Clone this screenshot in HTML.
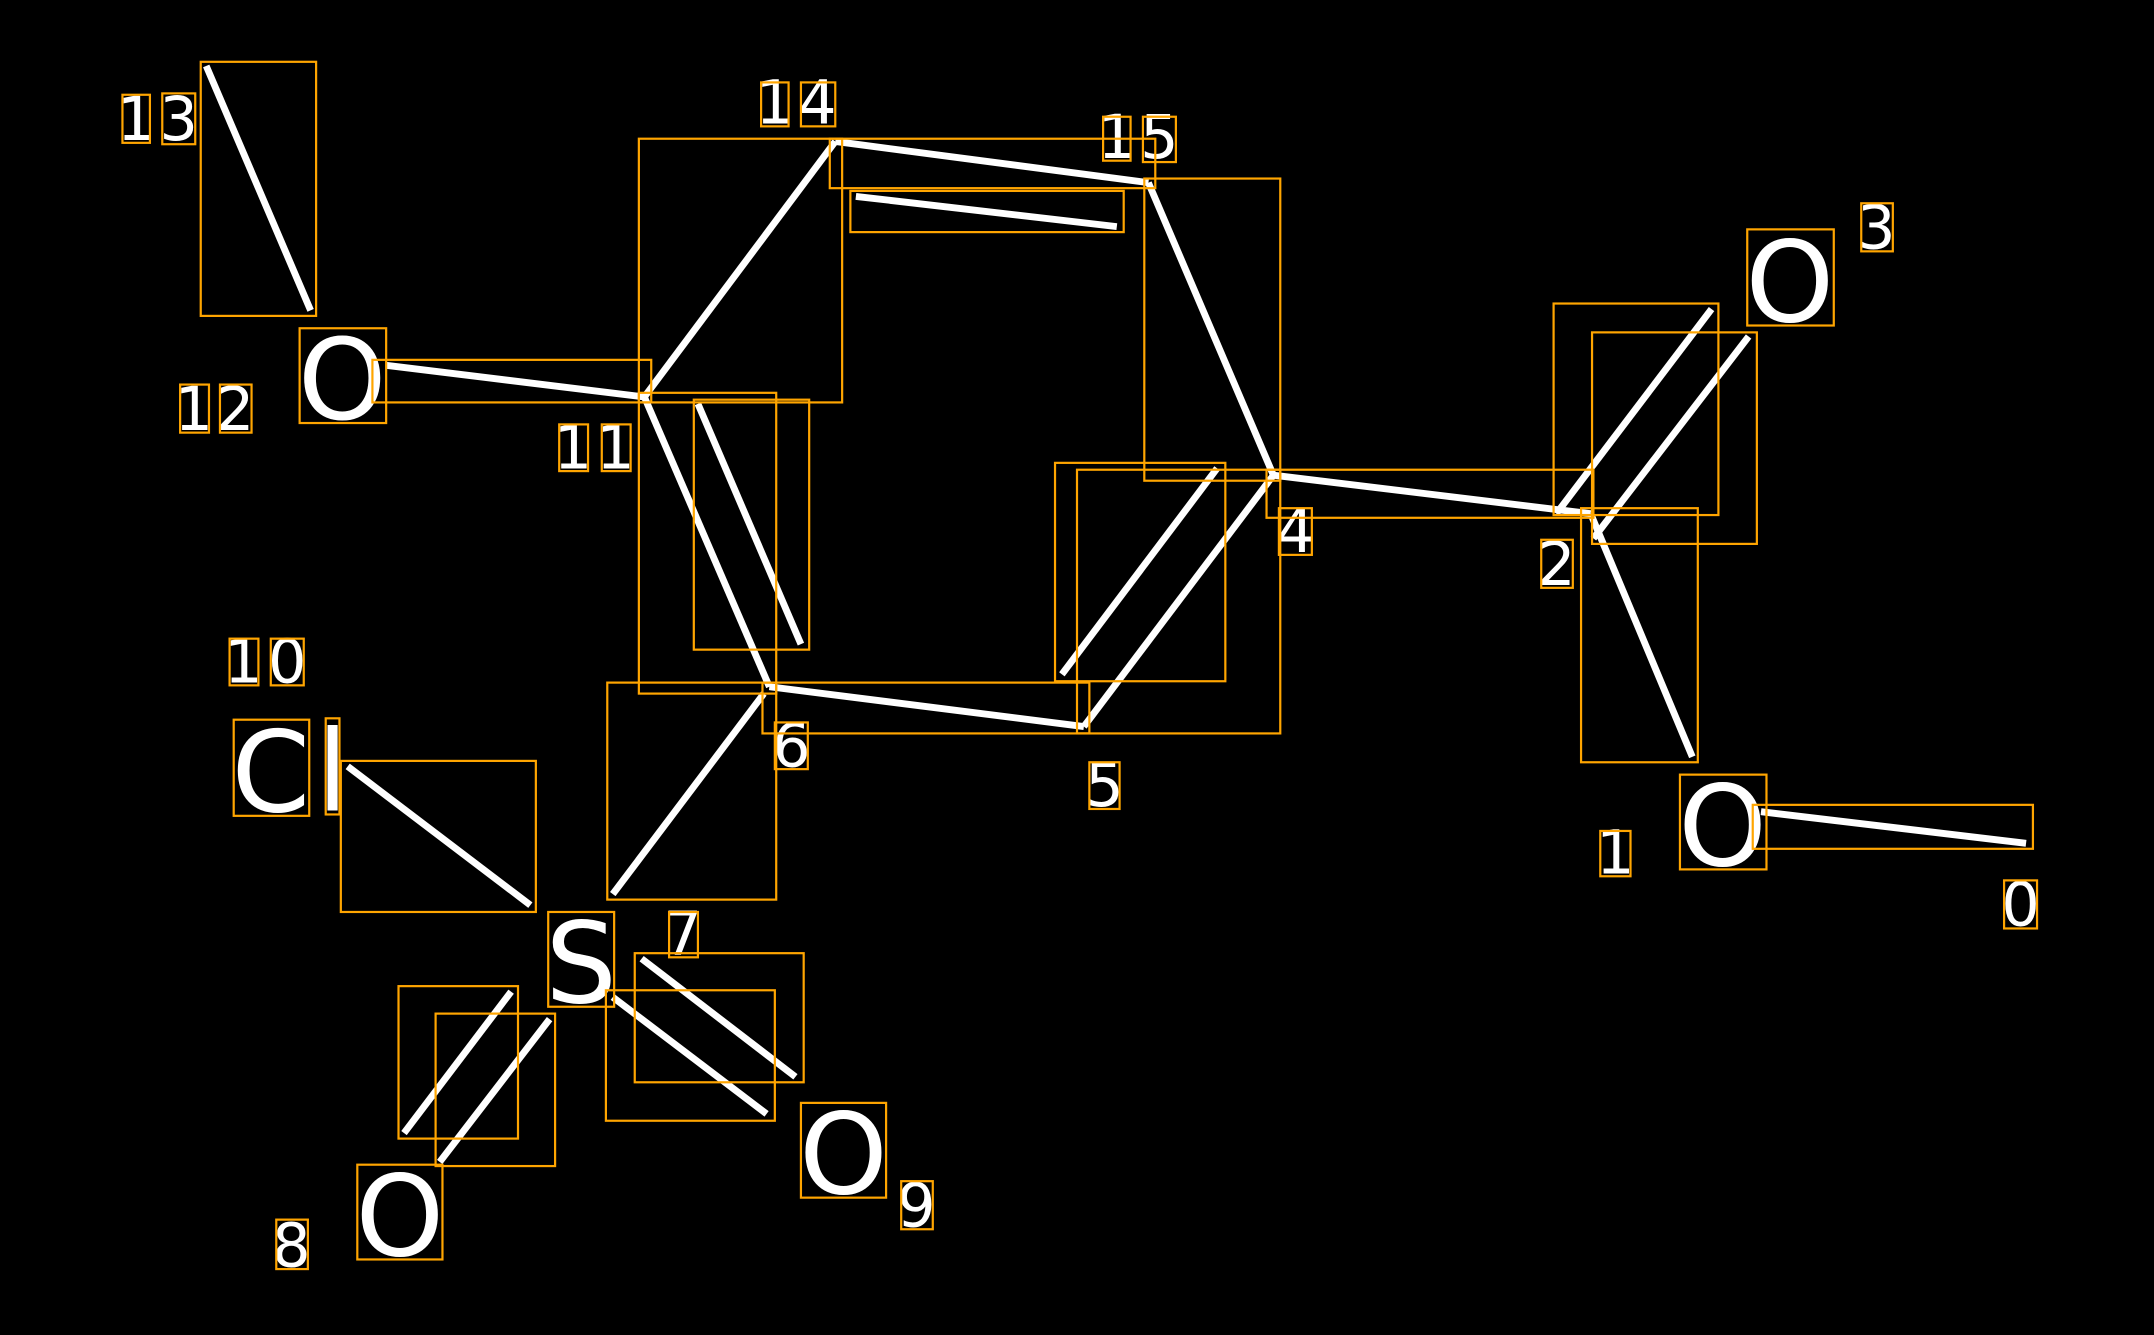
<!DOCTYPE html>
<html><head><meta charset="utf-8"><style>
html,body{margin:0;padding:0;background:#000;}
svg{display:block;}
text{font-family:"DejaVu Sans","Liberation Sans",sans-serif;fill:#fff;text-anchor:middle;}
</style></head><body>
<svg width="2154" height="1335" viewBox="0 0 1568 972" xmlns="http://www.w3.org/2000/svg">
<rect width="1568" height="972" fill="#000"/>
<g stroke="#fff" stroke-width="5" fill="none">
<line x1="150" y1="48" x2="226" y2="226"/>
<line x1="281" y1="266" x2="469" y2="289"/>
<line x1="469" y1="289" x2="608" y2="103"/>
<line x1="608" y1="103" x2="836" y2="133"/>
<line x1="623" y1="143" x2="813" y2="165"/>
<line x1="836" y1="133" x2="927" y2="346"/>
<line x1="927" y1="346" x2="1158" y2="374"/>
<line x1="1133" y1="374" x2="1246" y2="225"/>
<line x1="1160" y1="392" x2="1273" y2="245"/>
<line x1="1158" y1="374" x2="1232" y2="551"/>
<line x1="1282" y1="591" x2="1475" y2="614"/>
<line x1="469" y1="289" x2="560" y2="500"/>
<line x1="508" y1="294" x2="583" y2="469"/>
<line x1="560" y1="500" x2="789" y2="529"/>
<line x1="789" y1="529" x2="927" y2="346"/>
<line x1="773" y1="491" x2="886" y2="341"/>
<line x1="446" y1="651" x2="556" y2="505"/>
<line x1="253" y1="558" x2="386" y2="659"/>
<line x1="294" y1="825" x2="372" y2="722"/>
<line x1="320" y1="846" x2="400" y2="742"/>
<line x1="446" y1="726" x2="558" y2="811"/>
<line x1="467" y1="698" x2="579" y2="784"/>
</g>
<g font-size="82">
<text x="249" y="305">O</text>
<text x="1303" y="234">O</text>
<text x="1254" y="630">O</text>
<text x="614" y="869">O</text>
<text x="291" y="914">O</text>
<text x="423" y="730">S</text>
<text x="197" y="591">C</text>
<text x="242" y="590">l</text>
</g>
<g font-size="44">
<text x="99" y="102">1</text><text x="130" y="102">3</text>
<text x="564" y="90">1</text><text x="595" y="90">4</text>
<text x="813" y="115">1</text><text x="844" y="115">5</text>
<text x="141" y="313">1</text><text x="171" y="313">2</text>
<text x="417" y="341">1</text><text x="448" y="341">1</text>
<text x="177" y="497">1</text><text x="209" y="497">0</text>
<text x="1366" y="181">3</text>
<text x="943" y="402">4</text>
<text x="1133" y="426">2</text>
<text x="576" y="558">6</text>
<text x="804" y="587">5</text>
<text x="497" y="695">7</text>
<text x="1176" y="636">1</text>
<text x="1471" y="674">0</text>
<text x="667" y="893">9</text>
<text x="212" y="922">8</text>
</g>
<g stroke="#FFA500" stroke-width="1.6" fill="none">
<rect x="146" y="45" width="84" height="185"/>
<rect x="271" y="262" width="203" height="31"/>
<rect x="465" y="101" width="148" height="192"/>
<rect x="604" y="101" width="237" height="36"/>
<rect x="619" y="139" width="199" height="30"/>
<rect x="833" y="130" width="99" height="220"/>
<rect x="922" y="342" width="238" height="35"/>
<rect x="1131" y="221" width="120" height="154"/>
<rect x="1159" y="242" width="120" height="154"/>
<rect x="1151" y="370" width="85" height="185"/>
<rect x="1276" y="586" width="204" height="32"/>
<rect x="465" y="286" width="100" height="219"/>
<rect x="505" y="291" width="84" height="182"/>
<rect x="555" y="497" width="238" height="37"/>
<rect x="784" y="342" width="148" height="192"/>
<rect x="768" y="337" width="124" height="159"/>
<rect x="442" y="497" width="123" height="158"/>
<rect x="248" y="554" width="142" height="110"/>
<rect x="290" y="718" width="87" height="111"/>
<rect x="317" y="738" width="87" height="111"/>
<rect x="441" y="721" width="123" height="95"/>
<rect x="462" y="694" width="123" height="94"/>
<rect x="218" y="239" width="63" height="69"/>
<rect x="1272" y="167" width="63" height="70"/>
<rect x="1223" y="564" width="63" height="69"/>
<rect x="583" y="803" width="62" height="69"/>
<rect x="260" y="848" width="62" height="69"/>
<rect x="399" y="664" width="48" height="69"/>
<rect x="170" y="524" width="55" height="70"/>
<rect x="237" y="523" width="10" height="70"/>
<rect x="89" y="69" width="20" height="35"/><rect x="118" y="68" width="24" height="37"/>
<rect x="554" y="60" width="20" height="32"/><rect x="583" y="60" width="25" height="32"/>
<rect x="803" y="85" width="20" height="32"/><rect x="832" y="85" width="24" height="33"/>
<rect x="131" y="280" width="21" height="35"/><rect x="160" y="280" width="23" height="35"/>
<rect x="407" y="309" width="21" height="34"/><rect x="438" y="309" width="21" height="34"/>
<rect x="167" y="465" width="21" height="34"/><rect x="197" y="465" width="24" height="34"/>
<rect x="1355" y="148" width="23" height="35"/>
<rect x="931" y="370" width="24" height="34"/>
<rect x="1122" y="393" width="23" height="35"/>
<rect x="564" y="526" width="24" height="34"/>
<rect x="793" y="555" width="22" height="34"/>
<rect x="487" y="664" width="21" height="33"/>
<rect x="1165" y="605" width="22" height="33"/>
<rect x="1459" y="641" width="24" height="35"/>
<rect x="656" y="860" width="23" height="35"/>
<rect x="201" y="888" width="23" height="36"/>
</g>
</svg>
</body></html>
